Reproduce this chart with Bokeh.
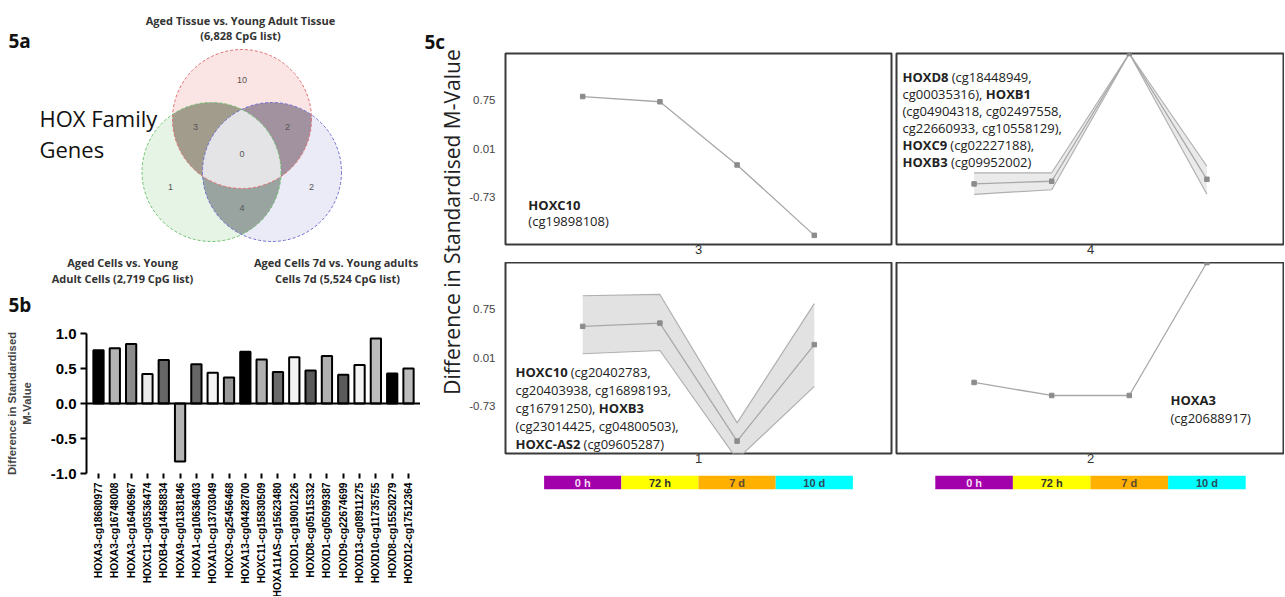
import math
import numpy as np
from bokeh.plotting import figure
from bokeh.layouts import row, column
from bokeh.models import (Range1d, LinearAxis, FixedTicker, Span, ColumnDataSource,
                          NumeralTickFormatter)
from bokeh.core.properties import value
from bokeh.embed import file_html
from bokeh.resources import INLINE

SANS = "Open Sans"
ARIAL = "Liberation Sans"

# ---------------- 5a : Venn data ----------------
venn_regions = ["T", "C", "D", "TC", "TD", "CD", "TCD"]
venn_counts = [10, 1, 2, 3, 2, 4, 0]
venn_title_T = ["Aged Tissue vs. Young Adult Tissue", "(6,828 CpG list)"]
venn_title_C = ["Aged Cells vs. Young", "Adult Cells (2,719 CpG list)"]
venn_title_D = ["Aged Cells 7d vs. Young  adults", "Cells 7d (5,524 CpG list)"]

# ---------------- 5b : bar data ----------------
bar_genes = ["HOXA3-cg18680977", "HOXA3-cg16748008", "HOXA3-cg16406967", "HOXC11-cg03536474",
             "HOXB4-cg14458834", "HOXA9-cg01381846", "HOXA1-cg10636403", "HOXA10-cg13703049",
             "HOXC9-cg25456468", "HOXA13-cg04428700", "HOXC11-cg15830509", "HOXA11AS-cg15623480",
             "HOXD1-cg19001226", "HOXD8-cg05115332", "HOXD1-cg05099387", "HOXD9-cg22674699",
             "HOXD13-cg08911275", "HOXD10-cg11735755", "HOXD8-cg15520279", "HOXD12-cg17512364"]
bar_values = [0.76, 0.79, 0.85, 0.42, 0.62, -0.83, 0.56, 0.44, 0.37, 0.74,
              0.63, 0.45, 0.66, 0.47, 0.68, 0.41, 0.55, 0.93, 0.43, 0.50]
bar_fills = ["#000000", "#b4b4b4", "#8a8a8a", "#ececec", "#666666", "#b4b4b4", "#666666",
             "#f4f4f4", "#999999", "#000000", "#b0b0b0", "#6a6a6a", "#f4f4f4", "#5a5a5a",
             "#b0b0b0", "#5a5a5a", "#f4f4f4", "#bdbdbd", "#000000", "#bdbdbd"]
bar_yticks = [-1.0, -0.5, 0.0, 0.5, 1.0]

# ---------------- 5c : cluster profiles ----------------
time_points = [1, 2, 3, 4]
time_labels = ["0 h", "72 h", "7 d", "10 d"]
time_colors = ["#a200aa", "#ffff00", "#ffb000", "#00ffff"]
time_text_colors = ["#f6dcf6", "#333333", "#5a4a30", "#2a4a5a"]
c_yticks = [0.75, 0.01, -0.73]
cl3_mean = [0.81, 0.73, -0.24, -1.32]
cl4_mean = [-0.53, -0.49, 1.47, -0.46]
cl4_upper = [-0.36, -0.36, 1.47, -0.26]
cl4_lower = [-0.69, -0.62, 1.47, -0.69]
cl1_mean = [0.49, 0.54, -1.27, 0.21]
cl1_upper = [0.96, 0.98, -0.99, 0.84]
cl1_lower = [0.07, 0.12, -1.55, -0.43]
cl2_mean = [-0.37, -0.57, -0.57, 1.47]

cl3_text = [[("HOXC10", True)], [("(cg19898108)", False)]]
cl4_text = [[("HOXD8", True), (" (cg18448949,", False)],
            [("cg00035316), ", False), ("HOXB1", True)],
            [("(cg04904318, cg02497558,", False)],
            [("cg22660933, cg10558129),", False)],
            [("HOXC9", True), (" (cg02227188),", False)],
            [("HOXB3", True), (" (cg09952002)", False)]]
cl1_text = [[("HOXC10", True), (" (cg20402783,", False)],
            [("cg20403938, cg16898193,", False)],
            [("cg16791250), ", False), ("HOXB3", True)],
            [("(cg23014425, cg04800503),", False)],
            [("HOXC-AS2", True), (" (cg09605287)", False)]]
cl2_text = [[("HOXA3", True)], [("(cg20688917)", False)]]

YMIN, YMAX = -1.46, 1.47


def base_fig(**kw):
    p = figure(output_backend="svg", toolbar_location=None, title=None,
               x_axis_location=None, y_axis_location=None, **kw)
    p.xgrid.visible = False
    p.ygrid.visible = False
    return p


# ================= 5a Venn (plus panel letters) =================
venn = base_fig(width=420, height=320, x_range=Range1d(0, 420), y_range=Range1d(320, 0),
                min_border=0)
venn.outline_line_color = None
centers = {"T": (241.5, 118.5), "C": (211.0, 171.5), "D": (271.5, 171.5)}
RAD = 69.5
fills = {"T": "#fbe4e4", "C": "#e6f4e6", "D": "#ebebf8", "TC": "#a29c8d",
         "TD": "#a2919f", "CD": "#99a3a0", "TCD": "#e4e4e6"}


def region_poly(keys):
    th = np.linspace(0, 2 * np.pi, 1440, endpoint=False)
    pts = []
    for k in keys:
        cx, cy = centers[k]
        px = cx + RAD * np.cos(th)
        py = cy + RAD * np.sin(th)
        m = np.ones_like(px, dtype=bool)
        for j in keys:
            if j != k:
                m &= (px - centers[j][0]) ** 2 + (py - centers[j][1]) ** 2 <= RAD ** 2
        pts.append(np.c_[px[m], py[m]])
    P = np.vstack(pts)
    c = P.mean(axis=0)
    o = np.argsort(np.arctan2(P[:, 1] - c[1], P[:, 0] - c[0]))
    return list(P[o, 0]), list(P[o, 1])


xs, ys, fc = [], [], []
for reg in venn_regions:
    x_, y_ = region_poly(list(reg))
    xs.append(x_)
    ys.append(y_)
    fc.append(fills[reg])
venn.patches(xs=xs, ys=ys, fill_color=fc, line_color=None)
venn.circle(x=[centers[k][0] for k in "TCD"], y=[centers[k][1] for k in "TCD"], radius=RAD,
            fill_color=None, line_color=["#e07070", "#70c070", "#7070d0"],
            line_dash="3 2", line_width=1)
label_pos = {"T": (241.5, 79), "C": (170, 186), "D": (311, 186), "TC": (195, 126),
             "TD": (287, 126), "CD": (241.5, 207), "TCD": (241.5, 153.5)}
venn.text(x=[label_pos[r][0] for r in venn_regions], y=[label_pos[r][1] for r in venn_regions],
          text=[str(c) for c in venn_counts], text_font=value(ARIAL), text_font_size="9px",
          text_color="#555555", text_align="center", text_baseline="middle")
tx = [240, 240, 122, 122, 337, 337]
ty = [19.5, 34.5, 262, 278, 262, 278]
venn.text(x=tx, y=ty, text=venn_title_T + venn_title_C + venn_title_D,
          text_font=value(SANS), text_font_size="11px", text_font_style="bold",
          text_color="#333333", text_align="center", text_baseline="middle")
venn.text(x=[39, 39], y=[117, 148], text=["HOX Family", "Genes"], text_font=value(SANS),
          text_font_size="22px", text_color="#111111", text_align="left", text_baseline="middle")
venn.text(x=[8, 8], y=[40, 304], text=["5a", "5b"], text_font=value(SANS), text_font_size="19px",
          text_font_style="bold", text_color="#111111", text_align="left", text_baseline="middle")

# ================= 5b bars =================
idx = list(range(len(bar_genes)))
bxr = Range1d(-0.735, len(bar_genes) - 1 + 0.735)
bars = base_fig(width=420, height=161, x_range=bxr, y_range=Range1d(-1.0, 1.0),
                min_border_left=86, min_border_right=0, min_border_top=13, min_border_bottom=8)
bars.outline_line_color = None
bars.vbar(x=idx, top=bar_values, bottom=0, width=0.63, fill_color=bar_fills,
          line_color="black", line_width=2)
bars.add_layout(Span(location=0, dimension="width", line_color="black", line_width=2))
yax = LinearAxis(ticker=FixedTicker(ticks=bar_yticks), formatter=NumeralTickFormatter(format="0.0"),
                 axis_label="Difference in Standardised\nM-Value")
yax.axis_line_width = 2
yax.major_tick_line_width = 2
yax.major_tick_out = 6
yax.major_tick_in = 0
yax.minor_tick_line_color = None
yax.major_label_standoff = 4
yax.major_label_text_font = ARIAL
yax.major_label_text_font_style = "bold"
yax.major_label_text_font_size = "15px"
yax.major_label_text_color = "black"
yax.axis_label_text_font = ARIAL
yax.axis_label_text_font_style = "bold"
yax.axis_label_text_font_size = "11.3px"
yax.axis_label_text_line_height = 1.2
yax.axis_label_standoff = 15
bars.add_layout(yax, "left")
xax = LinearAxis(ticker=FixedTicker(ticks=idx))
xax.axis_line_color = None
xax.major_tick_out = 5
xax.major_tick_in = 0
xax.major_tick_line_width = 2
xax.minor_tick_line_color = None
xax.major_label_standoff = 0
xax.axis_label_standoff = 0
xax.major_label_text_font_size = "0px"
xax.major_label_overrides = {i: "" for i in idx}
bars.add_layout(xax, "below")

barlab = base_fig(width=420, height=115, x_range=bxr, y_range=Range1d(596, 481),
                  min_border_left=86, min_border_right=0, min_border_top=0, min_border_bottom=0)
barlab.outline_line_color = None
barlab.text(x=idx, y=[482] * len(idx), text=bar_genes, angle=math.pi / 2,
            text_align="right", text_baseline="middle", text_font=value(ARIAL),
            text_font_style="bold", text_font_size="10.2px", text_color="black")

# ================= 5c =================
ylab = base_fig(width=46, height=596, x_range=Range1d(420, 466), y_range=Range1d(596, 0),
                min_border=0)
ylab.outline_line_color = None
ylab.text(x=[424], y=[41], text=["5c"], text_font=value(SANS), text_font_size="19px",
          text_font_style="bold", text_color="#111111", text_align="left", text_baseline="middle")
ylab.text(x=[451], y=[221.5], text=["Difference in Standardised M-Value"], angle=math.pi / 2,
          text_font=value(SANS), text_font_size="21px", text_color="#222222",
          text_align="center", text_baseline="middle")

_REG = {'(': .297, ')': .297, ',': .25, ' ': .26, '-': .322, 'c': .484, 'g': .547,
        'A': .633, 'B': .648, 'C': .631, 'D': .729, 'H': .742, 'O': .781, 'S': .549, 'X': .567}
_BOLD = {'(': .342, ')': .342, ',': .29, ' ': .26, '-': .322, 'A': .683, 'B': .689, 'C': .647,
         'D': .747, 'H': .770, 'O': .799, 'S': .549, 'X': .636}


def tw(s, bold, size):
    t = _BOLD if bold else _REG
    return size * sum(t.get(ch, .572) for ch in s)


def rich_text(p, x, y, lines, size=13, line_h=17):
    data = {True: dict(x=[], y=[], t=[], xo=[], yo=[]), False: dict(x=[], y=[], t=[], xo=[], yo=[])}
    for i, segs in enumerate(lines):
        xo = 0.0
        for txt, bold in segs:
            lead = len(txt) - len(txt.lstrip(" "))
            trail = len(txt) - len(txt.rstrip(" "))
            xo += lead * _REG[" "] * size
            core = txt.strip(" ")
            d = data[bold]
            d["x"].append(x); d["y"].append(y); d["t"].append(core)
            d["xo"].append(xo); d["yo"].append(i * line_h)
            xo += tw(core, bold, size) + trail * _REG[" "] * size
    for bold, d in data.items():
        if d["t"]:
            p.text(x="x", y="y", text="t", x_offset="xo", y_offset="yo",
                   source=ColumnDataSource(d), text_font=value(SANS),
                   text_font_size=f"{size}px", text_font_style="bold" if bold else "normal",
                   text_color="#222222", text_align="left", text_baseline="alphabetic")


def make_panel(width, height, bl, br, bt, bb, left_axis, strip_label):
    p = base_fig(width=width, height=height, x_range=Range1d(0, 5),
                 y_range=Range1d(YMIN, YMAX), min_border_left=bl, min_border_right=br,
                 min_border_top=bt, min_border_bottom=bb)
    p.outline_line_color = "#3a3a3a"
    p.outline_line_width = 2
    if left_axis:
        ax = LinearAxis(ticker=FixedTicker(ticks=c_yticks))
        ax.major_label_overrides = {v: f"{v:.2f}" for v in c_yticks}
        ax.axis_line_color = None
        ax.major_tick_line_color = None
        ax.major_tick_out = 0
        ax.major_tick_in = 0
        ax.minor_tick_line_color = None
        ax.minor_tick_out = 0
        ax.axis_label_standoff = 0
        ax.major_label_standoff = 10
        ax.major_label_text_font = ARIAL
        ax.major_label_text_font_size = "11.5px"
        ax.major_label_text_color = "#444444"
        p.add_layout(ax, "left")
    sx = LinearAxis(ticker=FixedTicker(ticks=[]), axis_label=strip_label)
    sx.axis_line_color = None
    sx.major_tick_out = 0
    sx.major_tick_in = 0
    sx.minor_tick_out = 0
    sx.major_label_standoff = 0
    sx.axis_label_standoff = 0
    sx.axis_label_text_font = ARIAL
    sx.axis_label_text_font_style = "normal"
    sx.axis_label_text_font_size = "13px"
    sx.axis_label_text_color = "#333333"
    p.add_layout(sx, "below")
    return p


def profile(p, mean):
    p.line(time_points, mean, line_color="#a8a8a8", line_width=1.3)
    p.scatter(time_points, mean, marker="square", size=4.5, fill_color="#8c8c8c",
              line_color="#8c8c8c")


def band(p, lo, hi, alpha):
    p.varea(x=time_points, y1=lo, y2=hi, fill_color="#d6d6d6", fill_alpha=alpha)
    p.line(time_points, lo, line_color="#b0b0b0", line_width=1.2)
    p.line(time_points, hi, line_color="#b0b0b0", line_width=1.2)


LW, RW = 427, 391
LBL, LBR, RBL, RBR = 37, 2, 3, 0

p3 = make_panel(LW, 262, LBL, LBR, 53, 18, True, "3")
profile(p3, cl3_mean)
rich_text(p3, 0.296, -0.854, cl3_text, line_h=16)

p4 = make_panel(RW, 262, RBL, RBR, 53, 18, False, "4")
band(p4, cl4_lower, cl4_upper, 0.5)
profile(p4, cl4_mean)
rich_text(p4, 0.077, 1.102, cl4_text, line_h=16.9)

p1 = make_panel(LW, 209, LBL, LBR, 0, 18, True, "1")
band(p1, cl1_lower, cl1_upper, 0.7)
profile(p1, cl1_mean)
rich_text(p1, 0.129, -0.217, cl1_text, line_h=17.8)

p2 = make_panel(RW, 209, RBL, RBR, 0, 18, False, "2")
profile(p2, cl2_mean)
rich_text(p2, 3.531, -0.639, cl2_text, line_h=18)


def time_bar(panel, width, bl, br):
    t = base_fig(width=width, height=125, x_range=panel.x_range, y_range=Range1d(0, 1),
                 min_border_left=bl, min_border_right=br, min_border_top=4, min_border_bottom=107)
    t.outline_line_color = None
    t.quad(left=[v - 0.5 for v in time_points], right=[v + 0.5 for v in time_points],
           bottom=0, top=1, fill_color=time_colors, line_color=None)
    t.text(x=time_points, y=[0.5] * 4, text=time_labels, text_color=time_text_colors,
           text_font=value(ARIAL), text_font_size="11px", text_font_style="bold",
           text_align="center", text_baseline="middle")
    return t


tb1 = time_bar(p1, LW, LBL, LBR)
tb2 = time_bar(p2, RW, RBL, RBR)

layout = row(column(row(venn), bars, barlab), ylab, column(p3, p1, tb1), column(p4, p2, tb2))
open("out.html", "w").write(file_html(layout, INLINE))
